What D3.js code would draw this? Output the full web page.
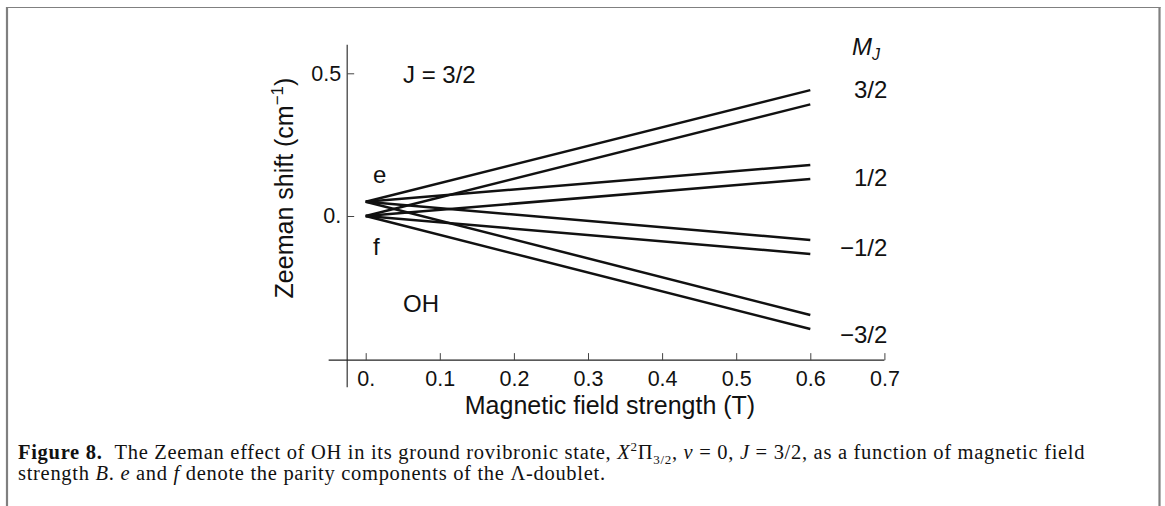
<!DOCTYPE html>
<html>
<head>
<meta charset="utf-8">
<script src="https://cdn.jsdelivr.net/npm/d3@7"></script>
<style>
  html, body { margin: 0; padding: 0; background: #fff; }
  svg { display: block; }
  text.cap { white-space: pre; }
</style>
</head>
<body>
<svg id="chart" width="1165" height="506"></svg>
<script>
// ---- data ----
const fieldB = [0, 0.6];                 // magnetic field strength (T)
const shiftE32  = [0.05, 0.441];         // e, MJ = 3/2
const shiftF32  = [0.0, 0.391];          // f, MJ = 3/2
const shiftE12  = [0.05, 0.179];         // e, MJ = 1/2
const shiftF12  = [0.0, 0.130];          // f, MJ = 1/2
const shiftEm12 = [0.05, -0.084];        // e, MJ = -1/2
const shiftFm12 = [0.0, -0.133];         // f, MJ = -1/2
const shiftEm32 = [0.05, -0.347];        // e, MJ = -3/2
const shiftFm32 = [0.0, -0.396];         // f, MJ = -3/2
const seriesList = [shiftE32, shiftF32, shiftE12, shiftF12, shiftEm12, shiftFm12, shiftEm32, shiftFm32];

const xTicks = [0, 0.1, 0.2, 0.3, 0.4, 0.5, 0.6, 0.7];
const xTickLabels = ["0.", "0.1", "0.2", "0.3", "0.4", "0.5", "0.6", "0.7"];
const yTicks = [0, 0.5];
const yTickLabels = ["0.", "0.5"];
const mjLabels = ["3/2", "1/2", "\u22121/2", "\u22123/2"];
const mjLabelY = [0.44, 0.133, -0.112, -0.417];

// ---- layout ----
const svg = d3.select("#chart");
const sans = "'Liberation Sans', Arial, Helvetica, sans-serif";
const serif = "'Liberation Serif', 'Times New Roman', serif";

const x = d3.scaleLinear().domain([0, 0.7]).range([365.7, 884.4]);
const y = d3.scaleLinear().domain([0, 0.5]).range([216.0, 73.3]);
const axisOriginX = -0.025, axisOriginY = -0.505;

// frame
svg.append("line").attr("x1", 7).attr("x2", 7).attr("y1", 7).attr("y2", 506)
   .attr("stroke", "#808080").attr("stroke-width", 2.2);
svg.append("line").attr("x1", 1159.5).attr("x2", 1159.5).attr("y1", 7).attr("y2", 506)
   .attr("stroke", "#808080").attr("stroke-width", 2.2);
svg.append("line").attr("x1", 6).attr("x2", 1160.5).attr("y1", 7.5).attr("y2", 7.5)
   .attr("stroke", "#808080").attr("stroke-width", 1.2);

const plot = svg.append("g");

// axes lines
const axX = x(axisOriginX), axY = y(axisOriginY);
plot.append("line").attr("x1", axX).attr("x2", axX).attr("y1", y(0.6)).attr("y2", y(-0.6))
    .attr("stroke", "#222").attr("stroke-width", 1.1);
plot.append("line").attr("x1", x(-0.05)).attr("x2", x(0.7)).attr("y1", axY).attr("y2", axY)
    .attr("stroke", "#222").attr("stroke-width", 1.1);

// x axis
const xAxis = d3.axisBottom(x).tickValues(xTicks)
   .tickFormat((d, i) => xTickLabels[i]).tickSizeInner(-7).tickSizeOuter(0).tickPadding(11);
const gx = plot.append("g").attr("transform", `translate(0,${axY})`).call(xAxis);
gx.select(".domain").remove();
gx.selectAll(".tick line").attr("stroke", "#444").attr("stroke-width", 1);
gx.selectAll(".tick text").attr("font-family", sans).attr("font-size", 21.5).attr("fill", "#111");

// y axis
const yAxis = d3.axisLeft(y).tickValues(yTicks)
   .tickFormat((d, i) => yTickLabels[i]).tickSizeInner(-7).tickSizeOuter(0).tickPadding(6);
const gy = plot.append("g").attr("transform", `translate(${axX},0)`).call(yAxis);
gy.select(".domain").remove();
gy.selectAll(".tick line").attr("stroke", "#444").attr("stroke-width", 1);
gy.selectAll(".tick text").attr("font-family", sans).attr("font-size", 21.5).attr("fill", "#111");

// lines
const line = d3.line().x((d, i) => x(fieldB[i])).y(d => y(d));
plot.selectAll("path.lvl").data(seriesList).enter().append("path")
    .attr("class", "lvl")
    .attr("d", d => line(d))
    .attr("fill", "none").attr("stroke", "#111").attr("stroke-width", 2.5);

// axis titles
svg.append("text").attr("x", 610).attr("y", 414).attr("text-anchor", "middle")
   .attr("font-family", sans).attr("font-size", 25).attr("fill", "#111")
   .text("Magnetic field strength (T)");
const yt = svg.append("text").attr("transform", "translate(293,188) rotate(-90)")
   .attr("text-anchor", "middle").attr("font-family", sans).attr("font-size", 25).attr("fill", "#111");
yt.append("tspan").text("Zeeman shift (cm");
yt.append("tspan").attr("font-size", 17).attr("dy", -10).text("\u22121");
yt.append("tspan").attr("dy", 10).text(")");

// in-plot labels
const lab = (tx, ty, s, anchor) => svg.append("text").attr("x", tx).attr("y", ty)
   .attr("text-anchor", anchor || "start").attr("font-family", sans).attr("font-size", 24)
   .attr("fill", "#111").text(s);
lab(403, 83, "J = 3/2");
lab(373, 183, "e");
lab(373, 255, "f");
lab(403, 312, "OH");

const mj = svg.append("text").attr("x", 852).attr("y", 55).attr("font-family", sans)
   .attr("font-size", 24).attr("font-style", "italic").attr("fill", "#111");
mj.append("tspan").text("M");
mj.append("tspan").attr("font-size", 16).attr("dy", 5).text("J");

mjLabels.forEach((s, i) => {
  lab(x(0.7) + 3, y(mjLabelY[i]) + 8, s, "end");
});

// caption: each segment is its own text element, placed one after another
function captionLine(segments, x0, baseline) {
  let cx = x0;
  segments.forEach(seg => {
    const t = svg.append("text").attr("class", "cap")
      .attr("x", cx + (seg.dx || 0)).attr("y", baseline + (seg.shift || 0))
      .attr("xml:space", "preserve")
      .attr("font-family", serif).attr("font-size", seg.size || 20.5)
      .attr("letter-spacing", 0.7).attr("fill", "#111")
      .attr("font-weight", seg.bold ? "bold" : "normal")
      .attr("font-style", seg.italic ? "italic" : "normal")
      .text(seg.t);
    cx += (seg.dx || 0) + t.node().getComputedTextLength();
  });
}
captionLine([
  {t: "Figure 8.", bold: true},
  {t: "The Zeeman effect of OH in its ground rovibronic state, ", dx: 12},
  {t: "X", italic: true},
  {t: "2", size: 13, shift: -8},
  {t: "\u03A0"},
  {t: "3/2", size: 13, shift: 5},
  {t: ", "},
  {t: "v", italic: true},
  {t: " = 0, "},
  {t: "J", italic: true},
  {t: " = 3/2, as a function of magnetic field"}
], 18, 459);
captionLine([
  {t: "strength "},
  {t: "B", italic: true},
  {t: ". "},
  {t: "e", italic: true},
  {t: " and "},
  {t: "f", italic: true},
  {t: " denote the parity components of the \u039B-doublet."}
], 18, 480);
</script>
</body>
</html>
